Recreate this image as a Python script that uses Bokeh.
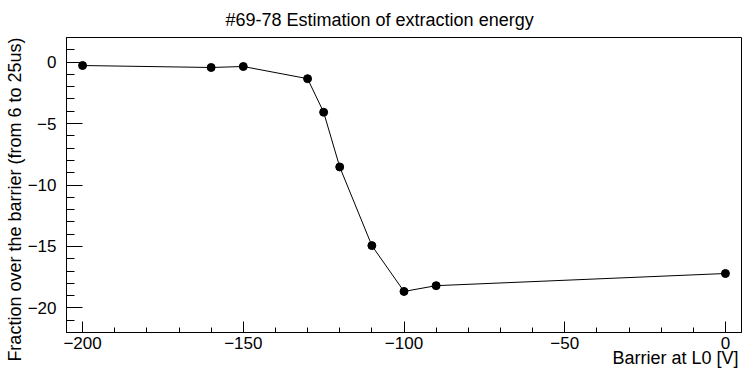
from bokeh.plotting import figure
from bokeh.models import Title, SingleIntervalTicker, CustomJSTickFormatter, Range1d
from bokeh.embed import file_html
from bokeh.resources import INLINE

barrier = [-200, -160, -150, -130, -125, -120, -110, -100, -90, 0]
fraction = [-0.28, -0.44, -0.36, -1.35, -4.08, -8.53, -14.93, -18.66, -18.19, -17.2]

title_text = "#69-78 Estimation of extraction energy"
x_title = "Barrier at L0 [V]"
y_title = "Fraction over the barrier (from 6 to 25us)"

FONT = "Liberation Sans"
W, H = 756, 381

x0, x1 = -205, 5
y0, y1 = -22, 2

p = figure(width=W, height=H, output_backend="svg", toolbar_location=None,
           x_range=Range1d(x0, x1), y_range=Range1d(y0, y1),
           min_border_left=66, min_border_right=15, min_border_top=37, min_border_bottom=49)
p.title = None
p.grid.visible = False
p.outline_line_color = "black"
p.outline_line_width = 1
p.outline_line_alpha = 1
p.background_fill_color = "white"
p.border_fill_color = "white"

fmt = CustomJSTickFormatter(code="return tick.toString().replace('-', '\u2212');")

xa = p.xaxis[0]
xa.ticker = SingleIntervalTicker(interval=50, num_minor_ticks=5)
xa.formatter = fmt
xa.major_tick_in = 11
xa.major_tick_out = 0
xa.minor_tick_in = 5
xa.minor_tick_out = 0
xa.major_label_standoff = 4
xa.major_label_text_font = FONT
xa.major_label_text_font_size = "17px"
xa.major_label_text_color = "black"
xa.axis_line_color = "black"
xa.major_tick_line_color = "black"
xa.minor_tick_line_color = "black"

ya = p.yaxis[0]
ya.ticker = SingleIntervalTicker(interval=5, num_minor_ticks=5)
ya.formatter = fmt
ya.major_tick_in = 16
ya.major_tick_out = 0
ya.minor_tick_in = 8
ya.minor_tick_out = 0
ya.major_label_standoff = 10
ya.major_label_text_font = FONT
ya.major_label_text_font_size = "17px"
ya.major_label_text_color = "black"
ya.axis_line_color = "black"
ya.major_tick_line_color = "black"
ya.minor_tick_line_color = "black"

p.line(barrier, fraction, line_color="black", line_width=1)
p.scatter(barrier, fraction, size=8, color="black")

p.add_layout(Title(text=title_text, align="left", offset=159, standoff=12,
                   vertical_align="top",
                   text_font=FONT, text_font_size="18px", text_font_style="normal",
                   text_color="black"), "above")
p.add_layout(Title(text=x_title, align="right", offset=3, standoff=-12,
                   text_font=FONT, text_font_size="18px", text_font_style="normal",
                   text_color="black"), "below")
p.add_layout(Title(text=y_title, align="right", offset=0, standoff=0,
                   text_font=FONT, text_font_size="18px", text_font_style="normal",
                   text_color="black"), "left")

open("out.html", "w").write(file_html(p, INLINE))
